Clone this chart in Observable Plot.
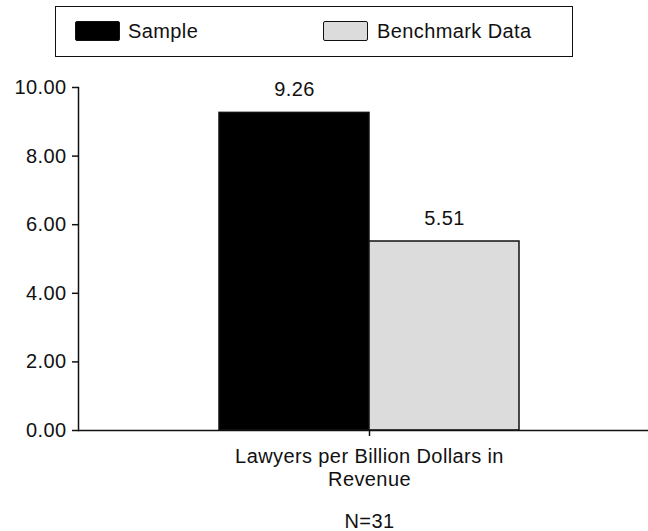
<!DOCTYPE html>
<html>
<head>
<meta charset="utf-8">
<script src="https://cdn.jsdelivr.net/npm/d3@7"></script>
<script src="https://cdn.jsdelivr.net/npm/@observablehq/plot@0.6"></script>
<style>
  html, body { margin: 0; padding: 0; background: #fff; overflow: hidden; }
  body { width: 648px; height: 531px; font-family: "Liberation Sans", Arial, sans-serif; color: #111; }
  #legend { position: relative; height: 62px; }
  #legend .box { position: absolute; left: 55px; top: 6px; width: 516px; height: 49px; border: 1.5px solid #111; }
  #legend .sw { position: absolute; width: 43px; height: 18px; border: 1.5px solid #111; border-radius: 2px; }
  #legend .lab { position: absolute; font-size: 20px; letter-spacing: 0.4px; line-height: 20px; }
  #chart svg { display: block; }
</style>
</head>
<body>
<div id="legend"></div>
<div id="chart"></div>
<script>
const categories = ["Lawyers per Billion Dollars in Revenue"];
const series = ["Sample", "Benchmark Data"];
const values = [9.26, 5.51];
const seriesColors = ["#000000", "#dcdcdc"];
const yTicks = [0, 2, 4, 6, 8, 10];
const caption = "N=31";

const data = series.map((s, i) => ({category: categories[0], series: s, value: values[i]}));
const fmt = d3.format(".2f");
const font = '"Liberation Sans", Arial, sans-serif';

// Legend (HTML, above the SVG)
const legend = document.getElementById("legend");
legend.innerHTML = `<div class="box"></div>` +
  `<div class="sw" style="left:75px;top:21px;background:${seriesColors[0]}"></div>` +
  `<div class="lab" style="left:128px;top:21px">${series[0]}</div>` +
  `<div class="sw" style="left:323px;top:21px;background:${seriesColors[1]}"></div>` +
  `<div class="lab" style="left:377px;top:21px">${series[1]}</div>`;

const chart = Plot.plot({
  width: 648,
  height: 469,
  marginLeft: 78,
  marginRight: -12,
  marginTop: 25,
  marginBottom: 101,
  style: {fontFamily: font, fontSize: "20px", color: "#111", background: "transparent", overflow: "visible", letterSpacing: "0.4px"},
  x: {domain: series, paddingInner: 0, paddingOuter: 0.9336, axis: null},
  y: {domain: [0, 10], axis: null},
  color: {domain: series, range: seriesColors},
  marks: [
    Plot.barY(data, {x: "series", y: "value", fill: "series", stroke: "#111", strokeWidth: 1.5}),
    Plot.ruleY([0], {stroke: "#111", strokeWidth: 1.5}),
    Plot.axisY({ticks: yTicks, tickFormat: fmt, tickSize: 6, tickPadding: 6, strokeWidth: 1.5, fontSize: 20, fill: "#111", label: null}),
    Plot.frame({anchor: "left", stroke: "#111", strokeWidth: 1.5}),
    Plot.ruleX(categories, {x: null, y1: 0, y2: 0, insetBottom: -6, stroke: "#111", strokeWidth: 1.5}),
    Plot.text(categories, {text: d => d, frameAnchor: "bottom", lineAnchor: "top", lineWidth: 16, lineHeight: 1.15, dy: 16, fontSize: 20, fill: "#111"}),
    Plot.text([caption], {text: d => d, frameAnchor: "bottom", lineAnchor: "top", dy: 83, fontSize: 20, fill: "#111"}),
    Plot.text(data, {x: "series", y: "value", text: d => fmt(d.value), dy: -23, fontSize: 20, fill: "#111"})
  ]
});
document.getElementById("chart").appendChild(chart);
</script>
</body>
</html>
